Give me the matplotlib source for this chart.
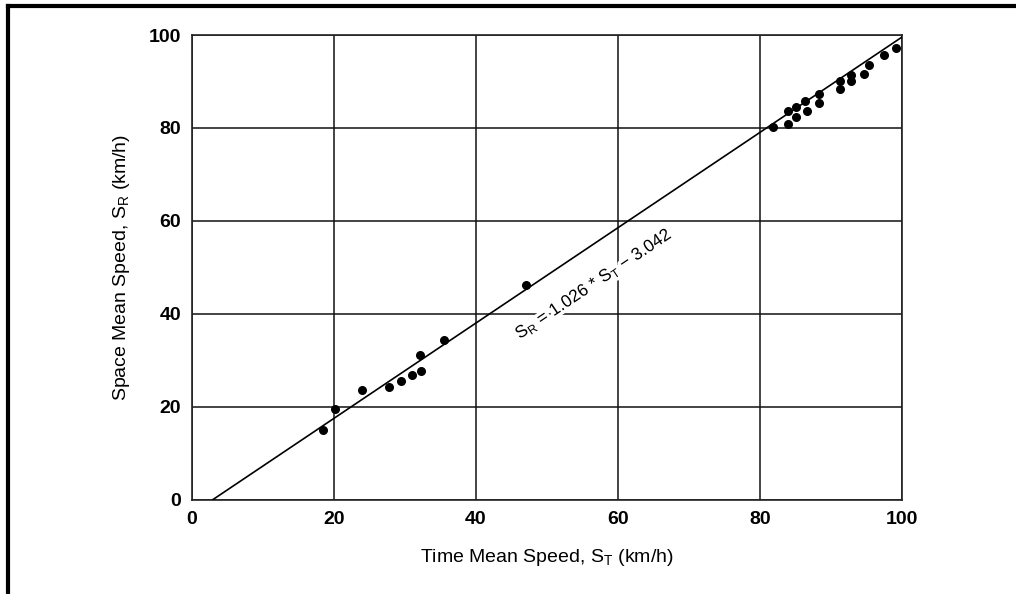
import numpy as np
import matplotlib
matplotlib.use('Agg')
import matplotlib.pyplot as plt
import matplotlib.patheffects as pe
from matplotlib.lines import Line2D

# observed speeds (km/h)
time_mean = [18.5, 20.1, 23.9, 27.8, 29.5, 31.0, 32.1, 32.3, 35.5, 47.1,
             81.8, 84.0, 84.0, 85.1, 85.1, 86.4, 86.6, 88.3, 88.3,
             91.2, 91.2, 92.8, 92.8, 94.7, 95.3, 97.5, 99.1]
space_mean = [14.9, 19.5, 23.5, 24.2, 25.6, 26.7, 31.1, 27.7, 34.4, 46.1,
              80.1, 80.9, 83.6, 84.6, 82.3, 85.8, 83.7, 87.2, 85.3,
              88.3, 90.1, 91.4, 90.0, 91.6, 93.5, 95.6, 97.2]

# regression S_R = a * S_T + b
slope = 1.026
intercept = -3.042
ticks = [0, 20, 40, 60, 80, 100]

plt.rcParams['font.family'] = ['Liberation Sans Narrow', 'Liberation Sans', 'DejaVu Sans']
plt.rcParams['mathtext.default'] = 'regular'

fig = plt.figure(figsize=(10.16, 5.94), dpi=100)
ax = fig.add_axes([192 / 1016, 1 - 499.5 / 594, 710 / 1016, 464.5 / 594])

ax.set_xlim(0, 100)
ax.set_ylim(0, 100)
ax.set_xticks(ticks)
ax.set_yticks(ticks)
ax.tick_params(length=0, labelsize=14, pad=8)
for lab in ax.get_xticklabels() + ax.get_yticklabels():
    lab.set_fontweight('bold')
ax.grid(True, color='#111111', linewidth=1.1, zorder=0.5)
ax.set_axisbelow(True)
for s in ax.spines.values():
    s.set_linewidth(1.2)
    s.set_color('#222222')

# fitted line from the x-intercept to the right edge
x0 = -intercept / slope
xs = np.array([x0, 100])
ax.plot(xs, slope * xs + intercept, color='black', linewidth=1.2, zorder=4)

ax.scatter(time_mean, space_mean, s=30, color='black', zorder=5)

# rotate equation label to follow the line on screen
p1 = ax.transData.transform((20, slope * 20 + intercept))
p2 = ax.transData.transform((80, slope * 80 + intercept))
angle = np.degrees(np.arctan2(p2[1] - p1[1], p2[0] - p1[0]))
ax.text(56.6, 46.4, r'$S_R$ = 1.026 * $S_T$ $-$ 3.042', rotation=angle,
        ha='center', va='center', fontsize=12.5, zorder=3,
        path_effects=[pe.withStroke(linewidth=5, foreground='white')])

ax.set_xlabel(r'Time Mean Speed, $S_T$ (km/h)', fontsize=14, labelpad=14)
ax.set_ylabel(r'Space Mean Speed, $S_R$ (km/h)', fontsize=14, labelpad=12)

# page frame (left and top only)
fig.add_artist(Line2D([8 / 1016, 8 / 1016], [0, 1 - 6 / 594], color='black',
                      linewidth=3, transform=fig.transFigure))
fig.add_artist(Line2D([8 / 1016, 1], [1 - 6 / 594, 1 - 6 / 594], color='black',
                      linewidth=3, transform=fig.transFigure))

fig.savefig('out.png', dpi=100)
